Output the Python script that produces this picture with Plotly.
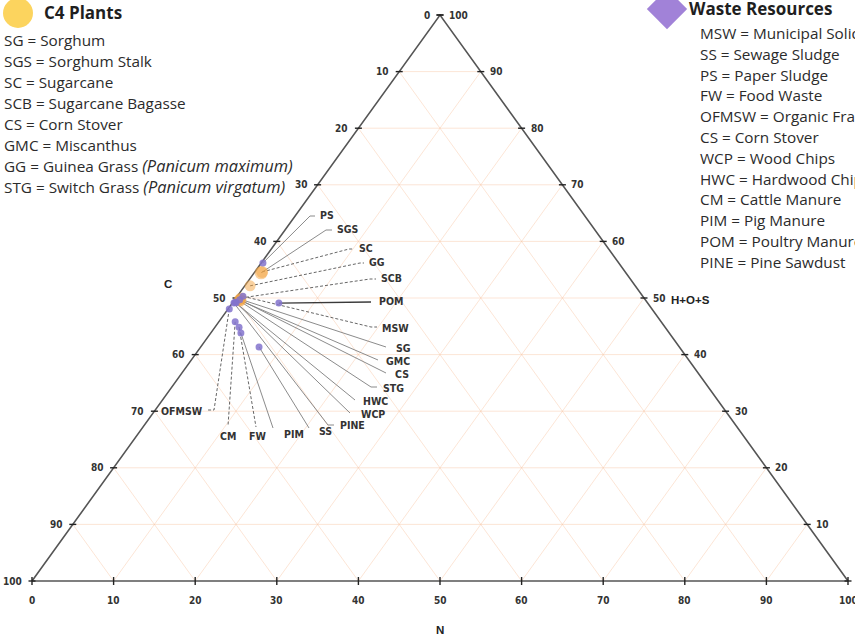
import plotly.graph_objects as go

# ---------------- data ----------------
c4_names = ["SG", "SGS", "SC", "SCB", "CS", "GMC", "GG", "STG"]
c4_C = [49.6, 44.7, 44.5, 49.4, 49.6, 49.8, 47.2, 49.8]
c4_N = [0.6, 0.85, 0.9, 0.6, 0.8, 0.55, 0.65, 0.75]
c4_HOS = [49.8, 54.45, 54.6, 50.0, 49.6, 49.65, 52.15, 49.45]

waste_names = ["MSW", "SS", "PS", "FW", "OFMSW", "CS", "WCP", "HWC", "CM", "PIM", "POM", "PINE"]
waste_C = [49.0, 51.5, 43.6, 52.2, 51.8, 49.7, 50.4, 50.5, 52.2, 52.5, 45.2, 50.7]
waste_N = [0.7, 7.15, 0.2, 2.95, 0.15, 0.6, 0.45, 0.25, 2.0, 3.7, 5.7, 0.2]
waste_HOS = [50.3, 41.35, 56.2, 44.85, 48.05, 49.7, 49.15, 49.25, 45.8, 43.8, 49.1, 49.1]

ticks = [0, 10, 20, 30, 40, 50, 60, 70, 80, 90, 100]

ITAL = '<span style="font-size:16.4px"><i>%s</i></span>'
c4_legend = ["SG = Sorghum", "SGS = Sorghum Stalk", "SC = Sugarcane", "SCB = Sugarcane Bagasse",
             "CS = Corn Stover", "GMC = Miscanthus",
             "GG = Guinea Grass " + ITAL % "(Panicum maximum)",
             "STG = Switch Grass " + ITAL % "(Panicum virgatum)"]
waste_legend = ["MSW = Municipal Solid Waste", "SS = Sewage Sludge", "PS = Paper Sludge",
                "FW = Food Waste", "OFMSW = Organic Fraction of MSW", "CS = Corn Stover",
                "WCP = Wood Chips", "HWC = Hardwood Chips", "CM = Cattle Manure",
                "PIM = Pig Manure", "POM = Poultry Manure", "PINE = Pine Sawdust"]

# ---------------- geometry (layout) ----------------
W, H = 855, 639
X0, SX = 32.0, 8.16
Y0, SY = 581.0, 5.66
XR = [(0 - X0) / SX, (W - X0) / SX]
YR = [(Y0 - H) / SY, Y0 / SY]


def tern(c, n, hos):
    s = c + n + hos
    n = n / s * 100.0
    hos = hos / s * 100.0
    return n + hos / 2.0, hos


def pxd(px, py):
    return (px - X0) / SX, (Y0 - py) / SY


pts = {}
for i, nm in enumerate(c4_names):
    pts[("c4", nm)] = tern(c4_C[i], c4_N[i], c4_HOS[i])
for i, nm in enumerate(waste_names):
    pts[("w", nm)] = tern(waste_C[i], waste_N[i], waste_HOS[i])

fig = go.Figure()

# grid
gx, gy = [], []
for v in ticks[1:-1]:
    for a, b in [((100 - v, 0, v), (0, 100 - v, v)),      # const H+O+S
                 ((100 - v, v, 0), (0, v, 100 - v)),      # const N
                 ((v, 100 - v, 0), (v, 0, 100 - v))]:     # const C
        p1 = tern(*a)
        p2 = tern(*b)
        gx += [p1[0], p2[0], None]
        gy += [p1[1], p2[1], None]
fig.add_trace(go.Scatter(x=gx, y=gy, mode="lines", hoverinfo="skip",
                         line=dict(color="rgba(247,196,160,0.55)", width=0.8)))

# triangle
corners = [tern(100, 0, 0), tern(0, 0, 100), tern(0, 100, 0), tern(100, 0, 0)]
fig.add_trace(go.Scatter(x=[p[0] for p in corners], y=[p[1] for p in corners], mode="lines",
                         hoverinfo="skip", line=dict(color="#555555", width=1.6)))

# ticks
tx, ty = [], []
ann = []
tick_font = dict(family="Liberation Sans Narrow, DejaVu Sans Condensed, Arial, sans-serif",
                 size=10, color="#333333")
for v in ticks:
    # left axis: C
    lx, ly = tern(v, 0, 100 - v)
    dx = 3.5 / SX
    tx += [lx - dx, lx + dx, None]
    ty += [ly, ly, None]
    ann.append(dict(x=lx - 8 / SX, y=ly, text="<b>%d</b>" % v, xanchor="right", yanchor="middle",
                    showarrow=False, font=tick_font))
    # right axis: H+O+S
    rx, ry = tern(0, 100 - v, v)
    tx += [rx - dx, rx + dx, None]
    ty += [ry, ry, None]
    if v > 0:
        ann.append(dict(x=rx + 7 / SX, y=ry, text="<b>%d</b>" % v, xanchor="left", yanchor="middle",
                        showarrow=False, font=tick_font))
    # bottom axis: N
    bx, by = tern(100 - v, v, 0)
    dy = 4 / SY
    tx += [bx, bx, None]
    ty += [by - dy, by + dy, None]
    ann.append(dict(x=bx, y=by - 19 / SY, text="<b>%d</b>" % v, xanchor="center", yanchor="middle",
                    showarrow=False, font=tick_font))
fig.add_trace(go.Scatter(x=tx, y=ty, mode="lines", hoverinfo="skip",
                         line=dict(color="#222222", width=1.4)))

# axis titles
title_font = dict(family="Liberation Sans, Arial, sans-serif", size=11.5, color="#222222")
for text, (px, py) in [("C", (168, 284)), ("H+O+S", (690, 300)), ("N", (440, 630))]:
    x, y = pxd(px, py)
    ann.append(dict(x=x, y=y, text="<b>%s</b>" % text, showarrow=False, font=title_font,
                    xanchor="center", yanchor="middle"))

# leader lines + labels: (group, name, text_x, text_y, xanchor, end_x, end_y, hook_x, dashed)
labels = [
    ("w", "PS", 318, 215, "left", 310, 216, 315, False),
    ("c4", "SGS", 335, 229, "left", 326, 230, 332, False),
    ("c4", "SC", 357, 248, "left", 349, 249, 354, True),
    ("c4", "GG", 367, 262, "left", 360, 263, 364, True),
    ("c4", "SCB", 379, 278, "left", 370, 279, 376, True),
    ("w", "POM", 377, 301, "left", 371, 302, None, False),
    ("w", "MSW", 380, 328, "left", 371, 327, 377, True),
    ("c4", "SG", 394, 348, "left", 386, 347, None, False),
    ("c4", "GMC", 384, 361, "left", 378, 360, None, False),
    ("c4", "CS", 393, 374, "left", 386, 373, None, False),
    ("c4", "STG", 381, 388, "left", 371, 387, 377, False),
    ("w", "HWC", 361, 401, "left", 355, 400, None, False),
    ("w", "WCP", 359, 414, "left", 350, 413, None, False),
    ("w", "PINE", 338, 425, "left", 328, 425, 334, False),
    ("w", "SS", 317, 431, "left", 309, 428, None, False),
    ("w", "PIM", 282, 434, "left", 273, 428, None, False),
    ("w", "FW", 247, 436, "left", 256, 427, None, True),
    ("w", "CM", 218, 436, "left", 228, 426, None, True),
    ("w", "OFMSW", 205, 411, "right", 214, 410, 208, True),
]
lab_font = dict(family="Liberation Sans Narrow, DejaVu Sans Condensed, Arial, sans-serif",
                size=10.5, color="#333333")
sx_, sy_, dx_, dy_ = [], [], [], []
for grp, nm, tpx, tpy, xa, ex, ey, hx, dashed in labels:
    p = pts[(grp, nm)]
    e = pxd(ex, ey)
    xs = [p[0], e[0]]
    ys = [p[1], e[1]]
    if hx is not None:
        h = pxd(hx, ey)
        xs.append(h[0])
        ys.append(h[1])
    if nm == "POM":
        fig.add_trace(go.Scatter(x=xs, y=ys, mode="lines", hoverinfo="skip",
                                 line=dict(color="#3a3a3a", width=1.3)))
    elif dashed:
        dx_ += xs + [None]
        dy_ += ys + [None]
    else:
        sx_ += xs + [None]
        sy_ += ys + [None]
    t = pxd(tpx, tpy)
    ann.append(dict(x=t[0], y=t[1], text="<b>%s</b>" % nm, xanchor=xa, yanchor="middle",
                    showarrow=False, font=lab_font))
fig.add_trace(go.Scatter(x=sx_, y=sy_, mode="lines", hoverinfo="skip",
                         line=dict(color="#7e7e7e", width=0.9)))
fig.add_trace(go.Scatter(x=dx_, y=dy_, mode="lines", hoverinfo="skip",
                         line=dict(color="#555555", width=0.9, dash="3px,2px")))

# points
c4_xy = [tern(c4_C[i], c4_N[i], c4_HOS[i]) for i in range(len(c4_names))]
w_xy = [tern(waste_C[i], waste_N[i], waste_HOS[i]) for i in range(len(waste_names))]
c4_sizes = [11, 13, 12, 11, 11, 11, 11, 11]
fig.add_trace(go.Scatter(x=[p[0] for p in c4_xy], y=[p[1] for p in c4_xy], mode="markers",
                         text=c4_names, cliponaxis=False,
                         marker=dict(color="rgba(244,168,72,0.75)", size=c4_sizes, line=dict(width=0))))
fig.add_trace(go.Scatter(x=[p[0] for p in w_xy], y=[p[1] for p in w_xy], mode="markers",
                         text=waste_names, cliponaxis=False,
                         marker=dict(color="rgba(130,115,205,0.85)", size=7, line=dict(width=0))))

# legend blocks
lg = pxd(18, 13)
fig.add_trace(go.Scatter(x=[lg[0]], y=[lg[1]], mode="markers", cliponaxis=False, hoverinfo="skip",
                         marker=dict(symbol="circle", size=30, color="#fcd45e")))
lg = pxd(667, 9)
fig.add_trace(go.Scatter(x=[lg[0]], y=[lg[1]], mode="markers", cliponaxis=False, hoverinfo="skip",
                         marker=dict(symbol="diamond", size=31, color="#a182d8")))

leg_font = dict(family="Open Sans, sans-serif", size=15.3, color="#2b2b2b")
head_font = dict(family="Open Sans, sans-serif", size=17, color="#1f1f1f")
t = pxd(42, 12)
ann.append(dict(x=t[0], y=t[1], text="<b>C4 Plants</b>", xanchor="left", yanchor="middle",
                showarrow=False, font=head_font))
for i, s in enumerate(c4_legend):
    t = pxd(2, 40 + i * 20.9)
    ann.append(dict(x=t[0], y=t[1], text=s, xanchor="left", yanchor="middle",
                    showarrow=False, font=leg_font))
t = pxd(687, 8)
ann.append(dict(x=t[0], y=t[1], text="<b>Waste Resources</b>", xanchor="left", yanchor="middle",
                showarrow=False, font=head_font))
for i, s in enumerate(waste_legend):
    t = pxd(698, 33 + i * 20.8)
    ann.append(dict(x=t[0], y=t[1], text=s, xanchor="left", yanchor="middle",
                    showarrow=False, font=leg_font))

fig.update_layout(
    width=W, height=H, margin=dict(l=0, r=0, t=0, b=0),
    paper_bgcolor="white", plot_bgcolor="white", showlegend=False,
    xaxis=dict(range=XR, visible=False, fixedrange=True),
    yaxis=dict(range=YR, visible=False, fixedrange=True),
    annotations=ann,
)
fig.write_html("out.html")
